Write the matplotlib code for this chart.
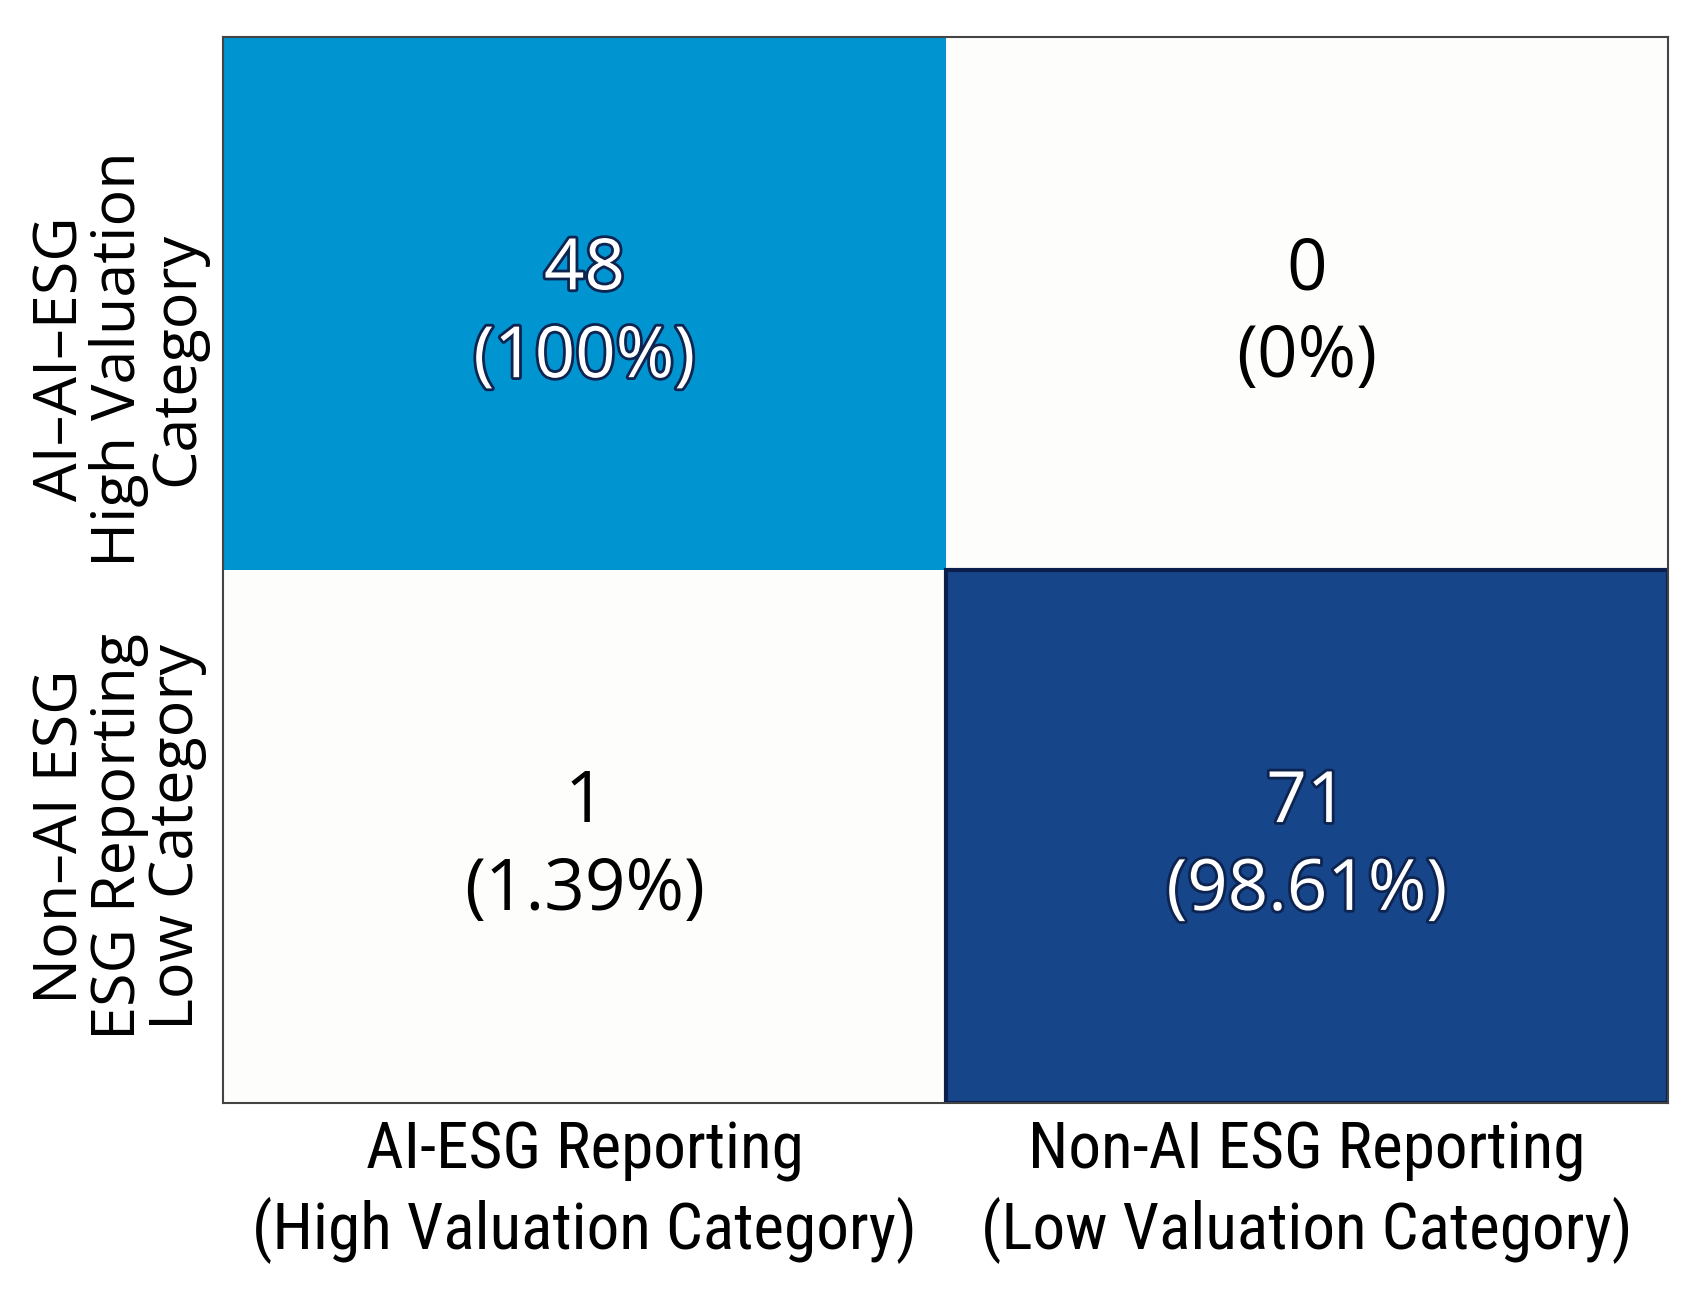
import numpy as np
import matplotlib
matplotlib.use("Agg")
import matplotlib.pyplot as plt
import matplotlib.patheffects as pe
import matplotlib.transforms as mtransforms
from matplotlib.colors import ListedColormap

# data
row_labels = ["AI\u2013AI\u2013ESG\nHigh Valuation\nCategory",
              "Non\u2013AI ESG\nESG Reporting\nLow Category"]
col_labels = ["AI-ESG Reporting\n(High Valuation Category)",
              "Non-AI ESG Reporting\n(Low Valuation Category)"]
counts = np.array([[48, 0], [1, 71]])
pct_labels = [["100%", "0%"], ["1.39%", "98.61%"]]

# cell colour index: 0 white, 1 light blue, 2 dark blue
cell_idx = np.array([[1, 0], [0, 2]])
cmap = ListedColormap(["#fdfdfb", "#0094d0", "#17458a"])

plt.rcParams['font.family'] = ['Open Sans', 'DejaVu Sans']

fig = plt.figure(figsize=(17.04, 12.93), dpi=100)
ax = fig.add_axes([0.131, 0.147, 0.848, 0.824])
ax.pcolormesh(cell_idx, cmap=cmap, vmin=0, vmax=2)
ax.set_xlim(0, 2)
ax.set_ylim(2, 0)

# dark edge around bottom-right cell
ax.add_patch(plt.Rectangle((1, 1), 1, 1, fill=False, ec="#0b1f4d", lw=3))

for i in range(2):
    for j in range(2):
        txt = f"{counts[i, j]}\n({pct_labels[i][j]})"
        if cell_idx[i, j] > 0:
            t = ax.text(j + 0.5, i + 0.52, txt, ha="center", va="center",
                        fontsize=51, color="white", linespacing=1.3)
            t.set_path_effects([pe.withStroke(linewidth=4, foreground="#0d2350")])
        else:
            ax.text(j + 0.5, i + 0.52, txt, ha="center", va="center",
                    fontsize=51, color="black", linespacing=1.3)

ax.set_xticks([0.5, 1.5])
ax.set_xticklabels(col_labels, fontsize=47, linespacing=1.3,
                   family=['Roboto Condensed', 'DejaVu Sans'])
ax.set_yticks([0.5, 1.5])
ax.set_yticklabels(row_labels, fontsize=44, rotation=90, va="center",
                   ha="center", linespacing=0.95)
ax.tick_params(length=0, pad=12)
ax.tick_params(axis="y", pad=75)

# top row label sits a little lower in the original
lab = ax.get_yticklabels()[0]
lab.set_transform(lab.get_transform() +
                  mtransforms.ScaledTranslation(0, -0.55, fig.dpi_scale_trans))

for s in ax.spines.values():
    s.set_color("#444444")
    s.set_linewidth(1.5)

fig.savefig("out.png", dpi=100)
